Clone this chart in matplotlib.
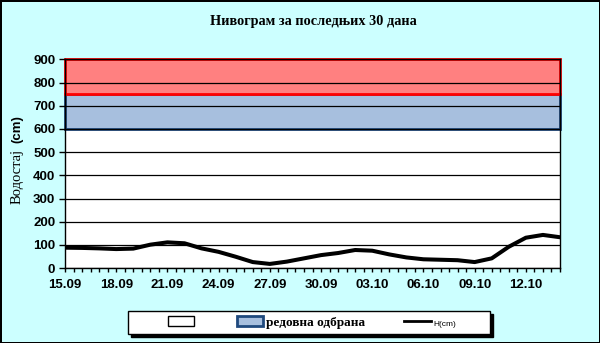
import matplotlib.pyplot as plt
from matplotlib.patches import Patch, Rectangle
from matplotlib.lines import Line2D
from matplotlib.ticker import MultipleLocator

# vodostaj po danima, 15.09 - 13.10
dani = list(range(30))
nivo = [88, 87, 85, 82, 84, 101, 111, 107, 85, 70,
        49, 26, 18, 28, 42, 56, 65, 78, 75, 59,
        46, 38, 36, 34, 26, 42, 92, 131, 143, 133]
oznake_pos = [0, 3, 6, 9, 12, 15, 18, 21, 24, 27]
oznake = ['15.09', '18.09', '21.09', '24.09', '27.09',
          '30.09', '03.10', '06.10', '09.10', '12.10']
redovna = (600, 750)
vanredna = (750, 900)

fig = plt.figure(figsize=(6, 3.43), dpi=100)
fig.patch.set_facecolor('#CCFFFF')
fig.patch.set_edgecolor('black')
fig.patch.set_linewidth(2)

ax = fig.add_axes([65/600, 1 - 268.1/343, 495/600, (268.1 - 59.3)/343])
ax.set_facecolor('white')
ax.set_xlim(0, 29)
ax.set_ylim(0, 900)

# zone odbrane
ax.add_patch(Rectangle((0, redovna[0]), 29, redovna[1] - redovna[0],
                       facecolor='#A7BFDE', edgecolor='#1F497D', lw=2,
                       zorder=1, clip_on=False))
ax.add_patch(Rectangle((0, vanredna[0]), 29, vanredna[1] - vanredna[0],
                       facecolor='#FF8080', edgecolor='red', lw=2,
                       zorder=1.1, clip_on=False))

ax.yaxis.set_major_locator(MultipleLocator(100))
ax.grid(axis='y', color='black', lw=0.9, zorder=1.5)
ax.set_axisbelow(False)
for s in ax.spines.values():
    s.set_color('black')
    s.set_linewidth(1)

ax.plot(dani, nivo, color='black', lw=2.9, solid_joinstyle='round',
        solid_capstyle='round', zorder=4)

ax.set_xticks(oznake_pos)
ax.set_xticklabels(oznake)
ax.xaxis.set_minor_locator(MultipleLocator(0.5))
ax.tick_params(axis='x', which='both', direction='out', length=3, width=1, pad=5)
ax.tick_params(axis='y', direction='out', length=4, width=1, pad=3)
for t in ax.get_xticklabels() + ax.get_yticklabels():
    t.set_fontfamily('Liberation Sans')
    t.set_fontweight('bold')
    t.set_fontsize(9.5)

fig.text(0.523, 1 - 21/343, 'Нивограм за последњих 30 дана',
         ha='center', va='center', family='Liberation Serif',
         weight='bold', fontsize=10.3)

fig.text(17/600, 1 - 176/343, 'Водостај', rotation=90, ha='center',
         va='center', family='Liberation Serif', fontsize=10.5)
fig.text(17/600, 1 - 129/343, '(cm)', rotation=90, ha='center',
         va='center', family='Liberation Sans', weight='bold', fontsize=9.5)

# okvir legende sa senkom
fig.patches.append(Rectangle((131/600, 1 - 337/343), 362/600, 23/343,
                             transform=fig.transFigure, facecolor='black',
                             edgecolor='black', lw=1, zorder=5))
fig.patches.append(Rectangle((128/600, 1 - 334/343), 362/600, 23/343,
                             transform=fig.transFigure, facecolor='white',
                             edgecolor='black', lw=1, zorder=6))

handles = [Patch(facecolor='white', edgecolor='black', lw=1),
           Patch(facecolor='#A7BFDE', edgecolor='#1F497D', lw=2),
           Line2D([], [], color='black', lw=2)]
labels = ['', 'редовна одбрана', 'H(cm)']
leg = fig.legend(handles, labels, loc='center', ncol=3,
                 bbox_to_anchor=(312/600, 1 - 322.5/343),
                 frameon=False,
                 prop={'family': 'Liberation Serif', 'weight': 'bold', 'size': 9.5},
                 handlelength=2.0, handleheight=0.8, handletextpad=0.2,
                 columnspacing=3.0, borderpad=0.2, borderaxespad=0)
leg.set_zorder(7)
txt = leg.get_texts()[2]
txt.set_fontfamily('Liberation Sans')
txt.set_fontweight('normal')
txt.set_fontsize(6)

fig.savefig('out.png', dpi=100, facecolor=fig.get_facecolor(),
            edgecolor=fig.get_edgecolor())
